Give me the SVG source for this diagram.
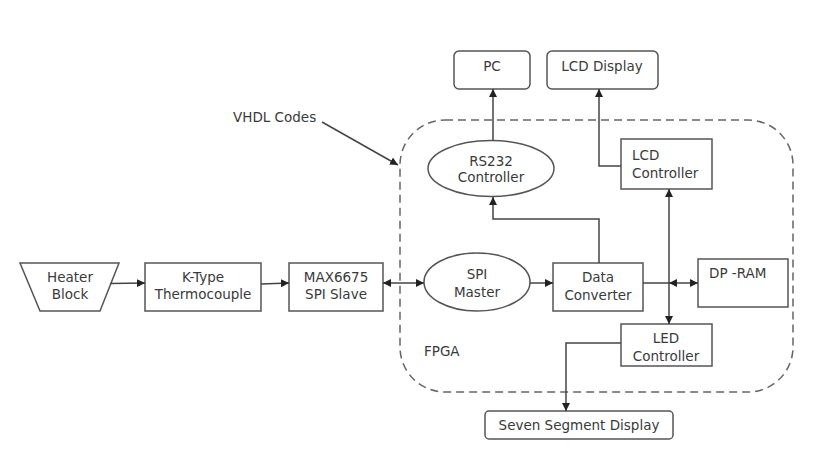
<svg xmlns="http://www.w3.org/2000/svg" width="819" height="464" viewBox="0 0 819 464">
<style>
.b{fill:#fff;stroke:#555;stroke-width:1.5}
.t{font-family:"DejaVu Sans",Verdana,sans-serif;font-size:13.5px;fill:#3a3a3a;text-anchor:middle}
.l{text-anchor:start}
.c{fill:none;stroke:#444;stroke-width:1.5}
.d{fill:none;stroke:#666;stroke-width:1.5;stroke-dasharray:8,5}
</style>
<defs>
<marker id="a" viewBox="0 0 10 10" refX="10" refY="5" markerWidth="8" markerHeight="8" markerUnits="userSpaceOnUse" orient="auto-start-reverse">
<path d="M0,0L10,5L0,10z" fill="#222"/>
</marker>
</defs>
<rect width="819" height="464" fill="#fff"/>
<g id="fpga">
<rect class="d" x="400" y="120" width="393" height="272" rx="45"/>
<text class="t l" x="424" y="356">FPGA</text>
</g>
<g id="vhdl"><text class="t l" x="233" y="122">VHDL Codes</text></g>
<g id="heater"><path class="b" d="M20,263H119L100,311H40Z"/><text class="t" x="70" y="282">Heater</text><text class="t" x="70" y="299">Block</text></g>
<g id="ktype"><rect class="b" x="145" y="263" width="116" height="48"/><text class="t" x="203" y="282">K-Type</text><text class="t" x="203" y="299">Thermocouple</text></g>
<g id="max"><rect class="b" x="289" y="263" width="94" height="48"/><text class="t" x="336" y="282">MAX6675</text><text class="t" x="336" y="299">SPI Slave</text></g>
<g id="pc"><rect class="b" x="454" y="51" width="76" height="38" rx="5"/><text class="t" x="492" y="71">PC</text></g>
<g id="lcdd"><rect class="b" x="547" y="51" width="111" height="38" rx="5"/><text class="t" x="602" y="71">LCD Display</text></g>
<g id="rs232"><ellipse class="b" cx="491" cy="168.5" rx="63" ry="28"/><text class="t" x="491" y="166">RS232</text><text class="t" x="491" y="182">Controller</text></g>
<g id="lcdc"><rect class="b" x="621" y="139" width="91" height="50"/><text class="t l" x="632" y="160">LCD</text><text class="t l" x="632" y="178">Controller</text></g>
<g id="spim"><ellipse class="b" cx="477" cy="282" rx="53" ry="29"/><text class="t" x="477" y="279">SPI</text><text class="t" x="477" y="297">Master</text></g>
<g id="dc"><rect class="b" x="553" y="263" width="90" height="48"/><text class="t" x="598" y="282">Data</text><text class="t" x="598" y="300">Converter</text></g>
<g id="dpram"><rect class="b" x="698" y="259" width="90" height="48"/><text class="t l" x="709" y="278">DP -RAM</text></g>
<g id="ledc"><rect class="b" x="621" y="324" width="91" height="42"/><text class="t" x="666" y="343">LED</text><text class="t" x="666" y="361">Controller</text></g>
<g id="seven"><rect class="b" x="485" y="411" width="188" height="28" rx="4"/><text class="t" x="579" y="430">Seven Segment Display</text></g>
<g id="connectors">
<path class="c" d="M110,283.5L145,283" marker-end="url(#a)"/>
<path class="c" d="M261,284L289,283" marker-end="url(#a)"/>
<path class="c" d="M383,283H424" marker-start="url(#a)" marker-end="url(#a)"/>
<path class="c" d="M530,283H553" marker-end="url(#a)"/>
<path class="c" d="M493,140V89" marker-end="url(#a)"/>
<path class="c" d="M621,166H599V89" marker-end="url(#a)"/>
<path class="c" d="M599,263V219H493V197" marker-end="url(#a)"/>
<path class="c" d="M669,189V324" marker-start="url(#a)" marker-end="url(#a)"/>
<path class="c" d="M643,283H669"/>
<path class="c" d="M669,283H698" marker-start="url(#a)" marker-end="url(#a)"/>
<path class="c" d="M621,343H566V411" marker-end="url(#a)"/>
<path class="c" d="M322,122L398,165" marker-end="url(#a)"/>
</g>
</svg>
